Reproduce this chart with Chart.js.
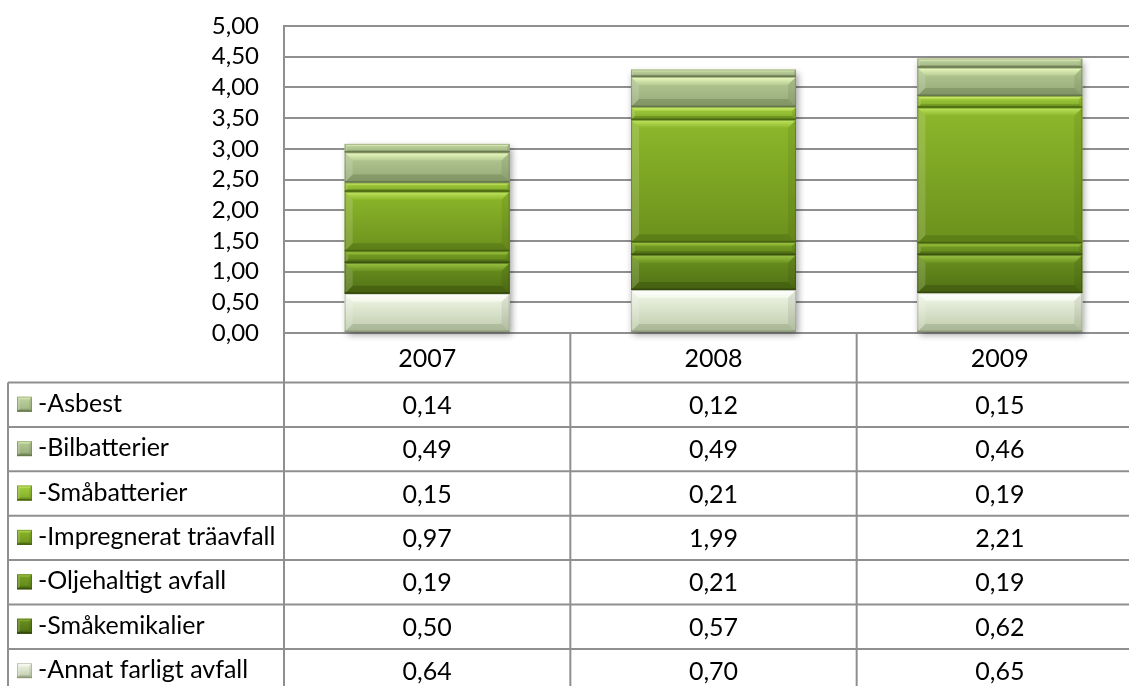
<!DOCTYPE html>
<html>
<head>
<meta charset="utf-8">
<script src="https://cdn.jsdelivr.net/npm/chart.js@4/dist/chart.umd.min.js"></script>
<style>
  html, body { margin: 0; padding: 0; background: #fff; overflow: hidden; }
</style>
</head>
<body>
<canvas id="c" width="1150" height="686"></canvas>
<script>
const years = ['2007', '2008', '2009'];
// table order, top of the stack first
const seriesNames = [
  '-Asbest',
  '-Bilbatterier',
  '-Småbatterier',
  '-Impregnerat träavfall',
  '-Oljehaltigt avfall',
  '-Småkemikalier',
  '-Annat farligt avfall',
];
const asbest = [0.14, 0.12, 0.15];
const bilbatterier = [0.49, 0.49, 0.46];
const smabatterier = [0.15, 0.21, 0.19];
const impregnerat = [0.97, 1.99, 2.21];
const oljehaltigt = [0.19, 0.21, 0.19];
const smakemikalier = [0.50, 0.57, 0.62];
const annatFarligt = [0.64, 0.70, 0.65];
const seriesValues = [asbest, bilbatterier, smabatterier, impregnerat, oljehaltigt, smakemikalier, annatFarligt];

const yTicks = { min: 0, max: 5, step: 0.5 };

// face top, face bottom, bevel highlight, edge
const palette = [
  ['#c0d4a0', '#a0b582', '#f0fcc8', '#6c7c52'],
  ['#b6cb94', '#93a877', '#eefcc0', '#66774c'],
  ['#a4ce3e', '#80aa28', '#daf580', '#4c6a12'],
  ['#8db82b', '#6c901c', '#c0e660', '#476311'],
  ['#7aa425', '#5e8219', '#add54f', '#3b5310'],
  ['#6b911f', '#507014', '#9cc544', '#34490c'],
  ['#f3f8ea', '#bdcaa9', '#ffffff', '#8d9a7b'],
];

const FONT = 'Lato, "Open Sans", sans-serif';
const AXIS_SIZE = 24;
const TABLE_SIZE = 25;
const LINE = '#8f8f8f';
const fmt = (v) => v.toFixed(2).replace('.', ',');

// stack from the bottom: last table row first
const datasets = seriesNames.map((name, i) => ({
  label: name,
  data: seriesValues[i],
  backgroundColor: palette[i][1],
  borderWidth: 0,
  _pal: palette[i],
})).reverse();

function bevelBox(ctx, L, T, R, B, pal, maxBevel) {
  const h = B - T;
  const b = Math.max(1.5, Math.min(maxBevel, h * 0.3));
  const g = ctx.createLinearGradient(0, T, 0, B);
  g.addColorStop(0, pal[0]);
  g.addColorStop(1, pal[1]);
  ctx.fillStyle = g;
  ctx.fillRect(L, T, R - L, h);

  // top band
  const gt = ctx.createLinearGradient(0, T, 0, T + b);
  gt.addColorStop(0, pal[2]);
  gt.addColorStop(1, pal[0]);
  ctx.fillStyle = gt;
  ctx.beginPath();
  ctx.moveTo(L, T); ctx.lineTo(R, T); ctx.lineTo(R - b, T + b); ctx.lineTo(L + b, T + b);
  ctx.closePath(); ctx.fill();

  // bottom band
  ctx.fillStyle = pal[3];
  ctx.globalAlpha = 0.4;
  ctx.beginPath();
  ctx.moveTo(L, B); ctx.lineTo(R, B); ctx.lineTo(R - b, B - b); ctx.lineTo(L + b, B - b);
  ctx.closePath(); ctx.fill();

  // sides
  ctx.globalAlpha = 0.15;
  ctx.fillStyle = '#ffffff';
  ctx.beginPath();
  ctx.moveTo(L, T); ctx.lineTo(L + b, T + b); ctx.lineTo(L + b, B - b); ctx.lineTo(L, B);
  ctx.closePath(); ctx.fill();
  ctx.globalAlpha = 0.07;
  ctx.fillStyle = '#000000';
  ctx.beginPath();
  ctx.moveTo(R, T); ctx.lineTo(R - b, T + b); ctx.lineTo(R - b, B - b); ctx.lineTo(R, B);
  ctx.closePath(); ctx.fill();
  ctx.globalAlpha = 1;

  // edge
  ctx.strokeStyle = pal[3];
  ctx.lineWidth = 1.5;
  ctx.beginPath();
  ctx.moveTo(L, B - 0.75); ctx.lineTo(R, B - 0.75);
  ctx.stroke();
  ctx.lineWidth = 1;
  ctx.globalAlpha = 0.5;
  ctx.strokeRect(L + 0.5, T + 0.5, R - L - 1, h - 1);
  ctx.globalAlpha = 1;
}

const barShadow = {
  id: 'barShadow',
  beforeDatasetsDraw(chart) {
    const ctx = chart.ctx;
    const first = chart.getDatasetMeta(0);
    const last = chart.getDatasetMeta(chart.data.datasets.length - 1);
    ctx.save();
    first.data.forEach((el, i) => {
      const p = el.getProps(['x', 'base', 'width'], true);
      const top = last.data[i].getProps(['y'], true).y;
      ctx.shadowColor = 'rgba(0,0,0,0.4)';
      ctx.shadowBlur = 7;
      ctx.shadowOffsetX = 2;
      ctx.shadowOffsetY = 3;
      ctx.fillStyle = '#ffffff';
      ctx.fillRect(p.x - p.width / 2, top, p.width, p.base - top);
    });
    ctx.restore();
  },
};

const barBevel = {
  id: 'barBevel',
  afterDatasetsDraw(chart) {
    const ctx = chart.ctx;
    ctx.save();
    chart.data.datasets.forEach((ds, di) => {
      chart.getDatasetMeta(di).data.forEach((el) => {
        const p = el.getProps(['x', 'y', 'base', 'width'], true);
        const L = p.x - p.width / 2, R = p.x + p.width / 2;
        const T = Math.min(p.y, p.base), B = Math.max(p.y, p.base);
        bevelBox(ctx, L, T, R, B, ds._pal, 8);
      });
    });
    ctx.restore();
  },
};

const dataTable = {
  id: 'dataTable',
  afterDraw(chart) {
    const ctx = chart.ctx;
    const area = chart.chartArea;
    const xs = chart.scales.x;
    const n = years.length;
    const colW = (area.right - area.left) / n;
    const headTop = area.bottom;
    const headH = 49.5;
    const rowH = 44.4;
    const tableLeft = 8;
    const bottom = chart.height;

    ctx.save();
    ctx.strokeStyle = LINE;
    ctx.lineWidth = 2;
    // verticals
    for (let i = 0; i <= n; i++) {
      const x = area.left + i * colW;
      ctx.beginPath(); ctx.moveTo(x, headTop); ctx.lineTo(x, bottom); ctx.stroke();
    }
    ctx.beginPath(); ctx.moveTo(tableLeft, headTop + headH); ctx.lineTo(tableLeft, bottom); ctx.stroke();
    // horizontals
    for (let r = 0; r < seriesNames.length; r++) {
      const y = headTop + headH + r * rowH;
      ctx.beginPath(); ctx.moveTo(tableLeft, y); ctx.lineTo(area.right, y); ctx.stroke();
    }

    ctx.fillStyle = '#000';
    ctx.font = `${TABLE_SIZE}px ${FONT}`;
    ctx.textBaseline = 'middle';
    ctx.textAlign = 'center';
    years.forEach((yr, i) => {
      ctx.fillText(yr, xs.getPixelForValue(i), headTop + headH / 2 + 1);
    });

    seriesNames.forEach((name, r) => {
      const cy = headTop + headH + r * rowH + rowH / 2;
      bevelBox(ctx, 17, cy - 8, 32, cy + 7, palette[r], 3);
      ctx.fillStyle = '#000';
      ctx.textAlign = 'left';
      ctx.fillText(name, 38, cy - 1);
      ctx.textAlign = 'center';
      seriesValues[r].forEach((v, i) => {
        ctx.fillText(fmt(v), xs.getPixelForValue(i), cy + 1);
      });
    });
    ctx.restore();
  },
};

new Chart(document.getElementById('c'), {
  type: 'bar',
  data: { labels: years, datasets },
  options: {
    responsive: false,
    animation: false,
    datasets: { bar: { barPercentage: 0.576, categoryPercentage: 1 } },
    layout: { padding: { top: 26, bottom: 353, right: 7, left: 0 } },
    plugins: { legend: { display: false }, tooltip: { enabled: false } },
    scales: {
      x: { stacked: true, display: false },
      y: {
        stacked: true,
        min: yTicks.min,
        max: yTicks.max,
        ticks: {
          stepSize: yTicks.step,
          autoSkip: false,
          padding: 0,
          color: '#000',
          font: { family: FONT, size: AXIS_SIZE },
          callback: (v) => fmt(v),
        },
        grid: { color: LINE, lineWidth: 2, drawTicks: true, tickLength: 25, tickColor: 'rgba(0,0,0,0)' },
        border: { color: LINE, width: 2 },
        afterFit(scale) { scale.width = 284; },
      },
    },
  },
  plugins: [barShadow, barBevel, dataTable],
});
</script>
</body>
</html>
